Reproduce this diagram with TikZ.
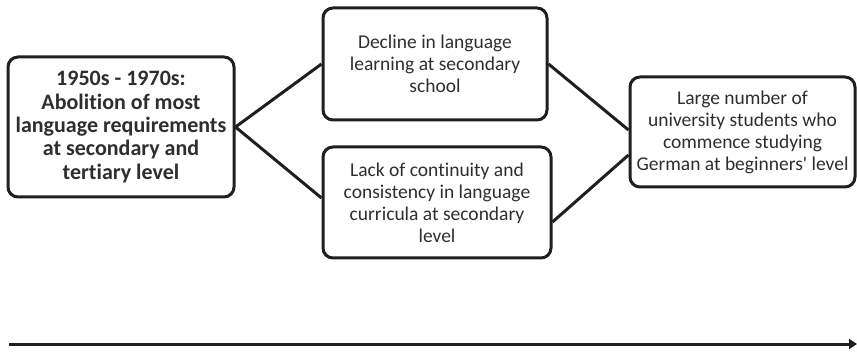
\documentclass[tikz,border=0pt]{standalone}
\usepackage{fontspec}
\setmainfont{Carlito}[Ligatures={TeXOff,NoCommon}]
\usetikzlibrary{arrows.meta}
\begin{document}
\begin{tikzpicture}[x=1pt,y=1pt]
    \tikzset{
        box/.style  = {draw=black!88, text=black!82, line width=3pt, rounded corners=10pt,
                       align=center, inner sep=0pt, font=\fontsize{19.5}{22}\selectfont},
        link/.style = {draw=black!88, line width=3pt}
    }
    \useasboundingbox (0,0) rectangle (857,351);

    \node[box, minimum width=226, minimum height=140, font=\fontsize{22}{23.4}\selectfont\bfseries]
        (cause) at (121,224) {1950s - 1970s:\\Abolition of most\\language requirements\\at secondary and\\tertiary level};
    \node[box, minimum width=224, minimum height=112]
        (dA) at (435,287) {Decline in language\\learning at secondary\\school};
    \node[box, minimum width=228, minimum height=111]
        (dB) at (437,148.5) {Lack of continuity and\\consistency in language\\curricula at secondary\\level};
    \node[box, minimum width=225, minimum height=110]
        (effect) at (742.5,219) {Large number of\\university students who\\commence studying\\German at beginners' level};

    \draw[link] (cause.east) -- (dA.west);
    \draw[link] (cause.east) -- ([yshift=4.5pt]dB.west);
    \draw[link] (dA.east) -- ([yshift=2pt]effect.west);
    \draw[link] ([yshift=-19.5pt]dB.east) -- ([yshift=-23pt]effect.west);

    \coordinate (tStart) at (9,7);
    \coordinate (tEnd) at (857,7);
    \draw[link, -{Triangle[length=8pt,width=10pt]}] (tStart) -- (tEnd);
\end{tikzpicture}
\end{document}
